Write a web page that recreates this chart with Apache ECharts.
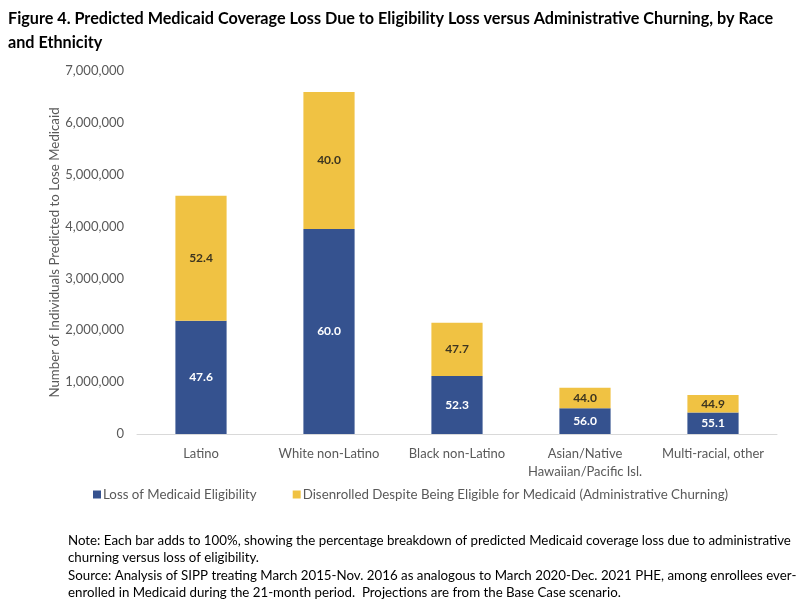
<!DOCTYPE html>
<html><head><meta charset="utf-8">
<script src="https://cdn.jsdelivr.net/npm/echarts@6/dist/echarts.min.js"></script>
<style>html,body{margin:0;padding:0;background:#fff}#c{width:798px;height:610px}</style>
</head><body><div id="c"></div>
<script>
const categories = ['Latino', 'White non-Latino', 'Black non-Latino', 'Asian/Native\nHawaiian/Pacific Isl.', 'Multi-racial, other'];
const eligibilityLoss = [2185000, 3955000, 1120000, 498000, 413000];
const adminChurning = [2410000, 2640000, 1025000, 392000, 337000];
const eligibilityPct = ['47.6', '60.0', '52.3', '56.0', '55.1'];
const churningPct = ['52.4', '40.0', '47.7', '44.0', '44.9'];
const seriesNames = ['Loss of Medicaid Eligibility', 'Disenrolled Despite Being Eligible for Medicaid (Administrative Churning)'];
const yTicks = [0, 1000000, 2000000, 3000000, 4000000, 5000000, 6000000, 7000000];

const FONT = 'Lato';
const chart = echarts.init(document.getElementById('c'));
chart.setOption({
  animation: false,
  textStyle: { fontFamily: FONT },
  title: [{
    text: 'Figure 4. Predicted Medicaid Coverage Loss Due to Eligibility Loss versus Administrative Churning, by Race\nand Ethnicity',
    left: 3, top: 2,
    textStyle: { fontFamily: FONT, fontSize: 16.2, fontWeight: 'bold', color: '#000', lineHeight: 24 }
  }, {
    text: 'Note: Each bar adds to 100%, showing the percentage breakdown of predicted Medicaid coverage loss due to administrative\nchurning versus loss of eligibility.\nSource: Analysis of SIPP treating March 2015-Nov. 2016 as analogous to March 2020-Dec. 2021 PHE, among enrollees ever-\nenrolled in Medicaid during the 21-month period.  Projections are from the Base Case scenario.',
    left: 63, top: 527,
    textStyle: { fontFamily: FONT, fontSize: 13.3, fontWeight: 'normal', color: '#000', lineHeight: 17.4 }
  }],
  legend: {
    left: 88, top: 483,
    itemWidth: 8, itemHeight: 8, itemGap: 36,
    icon: 'rect',
    textStyle: { fontFamily: FONT, fontSize: 13.3, color: '#595959', padding: [0, 0, 0, -3] },
    data: seriesNames
  },
  grid: { left: 137, right: 21, top: 71, bottom: 176 },
  xAxis: {
    type: 'category', data: categories,
    axisLine: { lineStyle: { color: '#d9d9d9' } },
    axisTick: { show: false },
    axisLabel: { color: '#595959', fontSize: 13, margin: 11, lineHeight: 18, interval: 0 }
  },
  yAxis: {
    type: 'value', min: 0, max: 7000000, interval: 1000000,
    name: 'Number of Individuals Predicted to Lose Medicaid',
    nameLocation: 'middle', nameGap: 76, nameRotate: 90, nameMoveOverlap: false,
    nameTextStyle: { color: '#595959', fontSize: 13.3 },
    splitLine: { show: false },
    axisLine: { show: false }, axisTick: { show: false },
    axisLabel: { color: '#595959', fontSize: 13, margin: 13,
      formatter: v => yTicks.includes(v) ? v.toLocaleString('en-US') : '' }
  },
  series: [{
    name: seriesNames[0], type: 'bar', stack: 't', barWidth: '40%',
    data: eligibilityLoss,
    itemStyle: { color: '#35528F' },
    label: { show: true, position: 'inside', color: '#fff', fontWeight: 'bold', fontSize: 12,
      formatter: p => eligibilityPct[p.dataIndex] }
  }, {
    name: seriesNames[1], type: 'bar', stack: 't', barWidth: '40%',
    data: adminChurning,
    itemStyle: { color: '#F0C243' },
    label: { show: true, position: 'inside', color: '#3d3520', fontWeight: 'bold', fontSize: 12,
      formatter: p => churningPct[p.dataIndex] }
  }]
});
</script></body></html>
